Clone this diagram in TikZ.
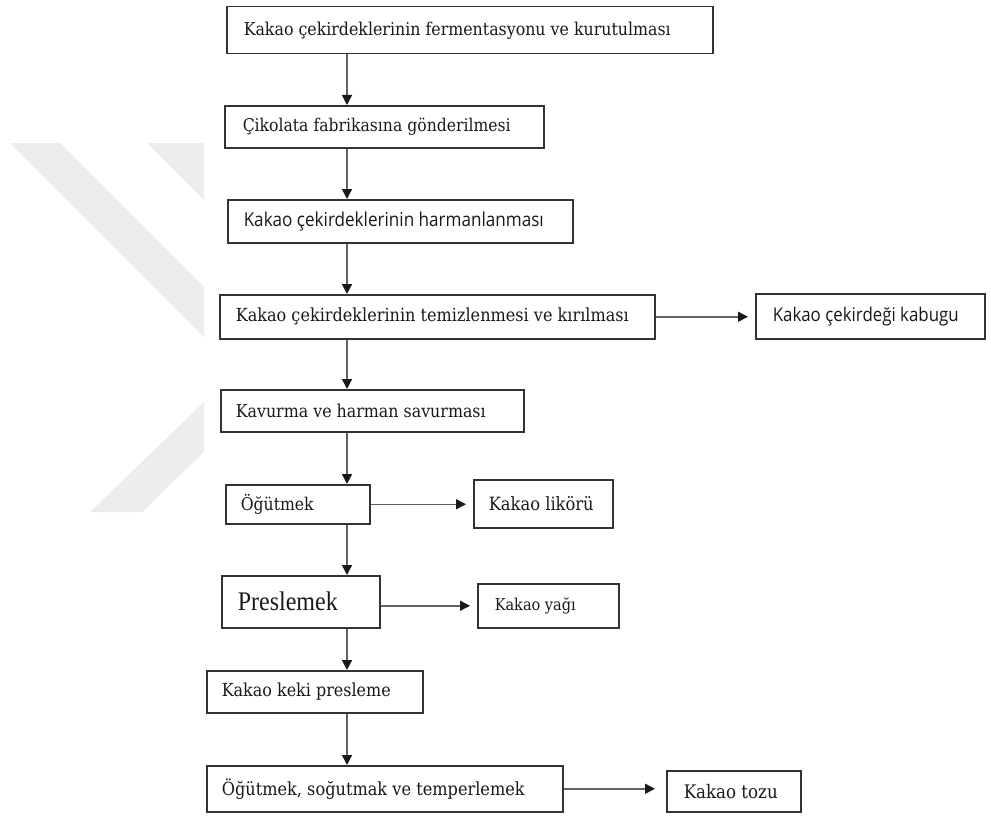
\documentclass[tikz,border=0pt]{standalone}
\usepackage{fontspec}
\usepackage{graphicx}
\setmainfont{DejaVu Serif}
\newfontfamily\timesf{Liberation Serif}
\newfontfamily\sansf{Open Sans}
\usetikzlibrary{arrows.meta}
\tikzset{
  box/.style={draw=black!80, line width=1.5pt, anchor=north west, inner sep=0pt, text=black!90},
  arr/.style={draw=black!62, line width=1.5pt, -{Triangle[length=10pt,width=10pt,color=black!90]}},
  wm/.style={fill=black!7, draw=none}
}
% name, x1, y1, x2, y2, text x, text width, font, text
\newcommand\pbox[9]{%
  \node[box, minimum height={#5-#3}] (#1) at (#2,#3)
    {\makebox[\dimexpr #4pt-#2pt\relax][l]{\hspace*{\dimexpr #6pt-#2pt\relax}\scalebox{1}[1.12]{\resizebox{#7pt}{!}{#8#9}}}};}
\begin{document}
\begin{tikzpicture}[x=1pt,y=-1pt]
\useasboundingbox (0,0) rectangle (991,816);
% watermark
\fill[wm] (10,143) -- (60,143) -- (204,287) -- (204,337) -- cycle;
\fill[wm] (147,143) -- (204,143) -- (204,200) -- cycle;
\fill[wm] (204,402) -- (204,452) -- (142,512) -- (90,512) -- cycle;
% boxes
\pbox{b1}{226}{6}{712}{53}{243}{427}{}{Kakao çekirdeklerinin fermentasyonu ve kurutulması}
\pbox{b2}{224}{105}{543}{147}{242}{268}{}{Çikolata fabrikasına gönderilmesi}
\pbox{b3}{227}{199}{572}{242}{243}{300}{\sansf}{Kakao çekirdeklerinin harmanlanması}
\pbox{b4}{219}{294}{654}{338}{235}{393}{}{Kakao çekirdeklerinin temizlenmesi ve kırılması}
\pbox{b5}{755}{293}{984}{338}{772}{186}{\sansf}{Kakao çekirdeği kabugu}
\pbox{b6}{220}{389}{523}{431}{235}{250}{}{Kavurma ve harman savurması}
\pbox{b7}{225}{484}{369}{523}{240}{73}{}{Öğütmek}
\pbox{b8}{473}{479}{612}{527}{488}{105}{}{Kakao likörü}
\pbox{b9}{221}{575}{379}{627}{237}{100}{\timesf}{Preslemek}
\pbox{b10}{477}{583}{618}{627}{494}{81}{}{Kakao yağı}
\pbox{b11}{206}{670}{422}{712}{221}{169}{}{Kakao keki presleme}
\pbox{b12}{206}{765}{562}{811}{221}{303}{}{Öğütmek, soğutmak ve temperlemek}
\pbox{b13}{666}{770}{800}{811}{683}{94}{}{Kakao tozu}
% vertical connectors
\coordinate (ax) at (347,0);
\draw[arr] (b1.south -| ax) -- (b2.north -| ax);
\draw[arr] (b2.south -| ax) -- (b3.north -| ax);
\draw[arr] (b3.south -| ax) -- (b4.north -| ax);
\draw[arr] (b4.south -| ax) -- (b6.north -| ax);
\draw[arr] (b6.south -| ax) -- (b7.north -| ax);
\draw[arr] (b7.south -| ax) -- (b9.north -| ax);
\draw[arr] (b9.south -| ax) -- (b11.north -| ax);
\draw[arr] (b11.south -| ax) -- (b12.north -| ax);
% side connectors
\draw[arr, shorten >=7pt] (b4.east) -- (b5.west |- b4.east);
\draw[arr, shorten >=7pt] (b7.east) -- (b8.west |- b7.east);
\draw[arr, shorten >=7pt] (b10.west -| b9.east) -- (b10.west);
\draw[arr, shorten >=11pt] (b12.east) -- (b13.west |- b12.east);
\end{tikzpicture}
\end{document}
